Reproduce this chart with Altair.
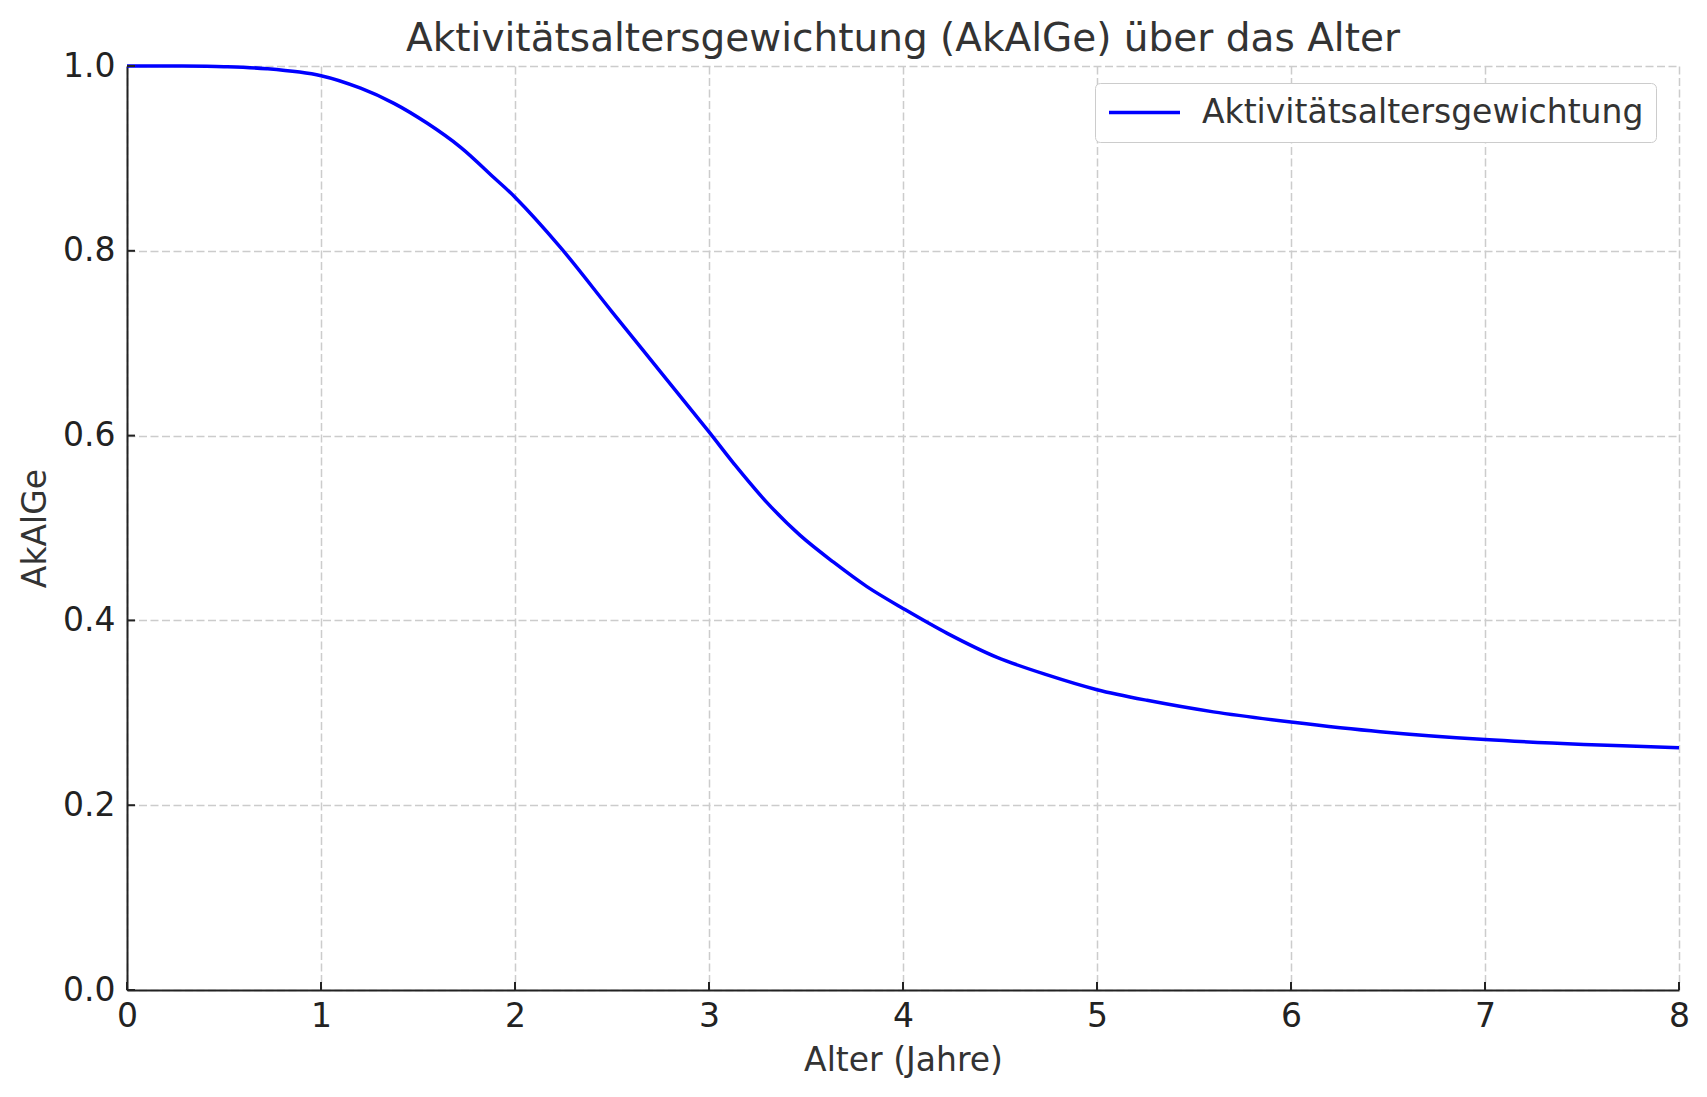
import altair as alt
import pandas as pd

# Curve values
alter = [0.0, 0.25, 0.5, 0.72, 1.0, 1.204, 1.376, 1.548, 1.72, 1.892, 2.0, 2.233,
         2.5, 2.75, 3.0, 3.127, 3.299, 3.47, 3.642, 3.814, 4.0, 4.228, 4.485,
         4.743, 5.0, 5.258, 5.6, 6.0, 6.46, 7.0, 7.51, 8.0]
akalge = [1.000, 1.000, 0.9993, 0.997, 0.9895, 0.976, 0.9596, 0.938, 0.912, 0.879,
          0.858, 0.804, 0.734, 0.669, 0.604, 0.570, 0.5275, 0.492, 0.463, 0.4366,
          0.413, 0.386, 0.360, 0.341, 0.325, 0.3135, 0.301, 0.290, 0.2795, 0.271,
          0.2658, 0.2623]
series_name = "Aktivitätsaltersgewichtung"

x_ticks = [0, 1, 2, 3, 4, 5, 6, 7, 8]
y_ticks = [0.0, 0.2, 0.4, 0.6, 0.8, 1.0]

W, H = 1552, 924
FONT = "DejaVu Sans"

df = pd.DataFrame({"Alter": alter, "AkAlGe": akalge, "Serie": [series_name] * len(alter)})
xt = pd.DataFrame({"t": x_ticks})
yt = pd.DataFrame({"t": y_ticks})

xscale = alt.Scale(domain=[0, 8], nice=False, zero=False)
yscale = alt.Scale(domain=[0, 1], nice=False, zero=False)

line = alt.Chart(df).mark_line(strokeWidth=3.5, interpolate="catmull-rom").encode(
    x=alt.X("Alter:Q", scale=xscale,
            axis=alt.Axis(title="Alter (Jahre)", values=x_ticks, format="d",
                          titleY=80, titleBaseline="alphabetic", labelFlush=False)),
    y=alt.Y("AkAlGe:Q", scale=yscale,
            axis=alt.Axis(title="AkAlGe", values=y_ticks, format=".1f",
                          titleX=-82, titleBaseline="alphabetic", labelFlush=False)),
    color=alt.Color("Serie:N", scale=alt.Scale(range=["#0000ff"]),
                    legend=alt.Legend(title=None, orient="none", legendX=968, legendY=17,
                                      symbolType="stroke", symbolSize=5041,
                                      symbolStrokeWidth=3.5, labelOffset=20,
                                      clipHeight=35, labelLimit=1000,
                                      padding=12, strokeColor="#cccccc",
                                      fillColor="white", cornerRadius=5,
                                      labelFontSize=33, labelFont=FONT,
                                      labelColor="#333333")),
)

xtick_marks = alt.Chart(xt).mark_rule(color="#222222", strokeWidth=2).encode(
    x=alt.X("t:Q", scale=xscale),
    y=alt.value(H),
    y2=alt.value(H - 8),
)
ytick_marks = alt.Chart(yt).mark_rule(color="#222222", strokeWidth=2).encode(
    y=alt.Y("t:Q", scale=yscale),
    x=alt.value(0),
    x2=alt.value(8),
)

chart = alt.layer(line, xtick_marks, ytick_marks).properties(
    width=W, height=H,
    autosize=alt.AutoSizeParams(type="none"),
    padding={"left": 119, "top": 58, "right": 15, "bottom": 90},
    title=alt.TitleParams("Aktivitätsaltersgewichtung (AkAlGe) über das Alter",
                          fontSize=39, font=FONT, color="#333333", fontWeight="normal",
                          anchor="middle", baseline="alphabetic", offset=0, dy=40),
).configure_view(stroke=None).configure_axis(
    labelFont=FONT, titleFont=FONT, labelFontSize=33, titleFontSize=33,
    labelColor="#222222", titleColor="#333333", titleFontWeight="normal",
    domainColor="#222222", domainWidth=2,
    ticks=False, tickSize=0,
    gridColor="#cccccc", gridDash=[8, 3.5], gridWidth=1.5,
).configure_axisX(labelPadding=10).configure_axisY(labelPadding=12)

chart.save("out.html", embed_options={"renderer": "svg", "actions": False})
